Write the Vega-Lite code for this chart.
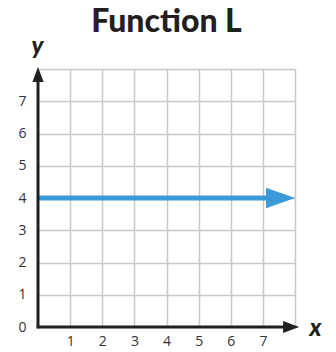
{
  "$schema": "https://vega.github.io/schema/vega-lite/v6.json",
  "width": 257,
  "height": 258,
  "autosize": "none",
  "padding": {"left": 38, "top": 69, "right": 41, "bottom": 25},
  "background": "white",
  "title": {
    "text": "Function L",
    "font": "Lato",
    "fontSize": 32,
    "fontWeight": 900,
    "color": "#231f20",
    "anchor": "middle",
    "frame": "group",
    "baseline": "alphabetic",
    "offset": -30
  },
  "config": {
    "view": {"stroke": null},
    "axis": {
      "labelFont": "Open Sans",
      "labelFontSize": 14,
      "labelColor": "#333333",
      "labelOverlap": false,
      "labelFlush": false,
      "tickCount": 20,
      "format": "d",
      "titleFont": "Lato",
      "titleFontSize": 24,
      "titleFontWeight": 900,
      "titleFontStyle": "italic",
      "titleColor": "#231f20",
      "gridColor": "#c8c8c8",
      "gridWidth": 1.5,
      "gridOpacity": 1,
      "domain": false,
      "ticks": false
    }
  },
  "datasets": {
    "axes": [
      {"x": 0, "y": -0.04, "x2": 0, "y2": 7.7},
      {"x": -0.04, "y": 0, "x2": 7.7, "y2": 0}
    ],
    "xhead": [{"x": 7.88, "y": 0}],
    "yhead": [{"x": 0, "y": 7.83}],
    "fn": [{"x": 0, "y": 4}, {"x": 7.6, "y": 4}],
    "fnhead": [{"x": 7.55, "y": 4}]
  },
  "layer": [
    {
      "data": {"name": "fn"},
      "mark": {"type": "line", "color": "#3b9ad8", "strokeWidth": 5, "clip": false},
      "encoding": {
        "x": {
          "field": "x", "type": "quantitative",
          "scale": {"domain": [0, 8], "nice": false, "zero": false},
          "axis": {
            "values": [1, 2, 3, 4, 5, 6, 7, 8],
            "tickCount": 20,
            "format": "d",
            "labelExpr": "datum.value >= 8 ? '' : datum.label",
            "labelPadding": 7,
            "title": "x",
            "titleX": 277,
            "titleY": 8,
            "titleAlign": "center",
            "titleBaseline": "alphabetic"
          }
        },
        "y": {
          "field": "y", "type": "quantitative",
          "scale": {"domain": [0, 8], "nice": false, "zero": false},
          "axis": {
            "values": [0, 1, 2, 3, 4, 5, 6, 7, 8],
            "tickCount": 20,
            "format": "d",
            "labelExpr": "datum.value >= 8 ? '' : datum.label",
            "labelPadding": 12,
            "title": "y",
            "titleAngle": 0,
            "titleX": -1,
            "titleY": -16,
            "titleAlign": "center",
            "titleBaseline": "alphabetic"
          }
        }
      }
    },
    {
      "data": {"name": "fnhead"},
      "mark": {"type": "point", "shape": "M-1,-0.7L1,0L-1,0.7Z", "size": 841, "filled": true, "color": "#3b9ad8", "opacity": 1, "clip": false},
      "encoding": {
        "x": {"field": "x", "type": "quantitative"},
        "y": {"field": "y", "type": "quantitative"}
      }
    },
    {
      "data": {"name": "axes"},
      "mark": {"type": "rule", "color": "#231f20", "strokeWidth": 3, "clip": false},
      "encoding": {
        "x": {"field": "x", "type": "quantitative"},
        "y": {"field": "y", "type": "quantitative"},
        "x2": {"field": "x2"},
        "y2": {"field": "y2"}
      }
    },
    {
      "data": {"name": "xhead"},
      "mark": {"type": "point", "shape": "M-1,-0.75L1,0L-1,0.75Z", "size": 256, "filled": true, "color": "#231f20", "opacity": 1, "clip": false},
      "encoding": {
        "x": {"field": "x", "type": "quantitative"},
        "y": {"field": "y", "type": "quantitative"}
      }
    },
    {
      "data": {"name": "yhead"},
      "mark": {"type": "point", "shape": "M-0.75,1L0,-1L0.75,1Z", "size": 225, "filled": true, "color": "#231f20", "opacity": 1, "clip": false},
      "encoding": {
        "x": {"field": "x", "type": "quantitative"},
        "y": {"field": "y", "type": "quantitative"}
      }
    }
  ]
}
